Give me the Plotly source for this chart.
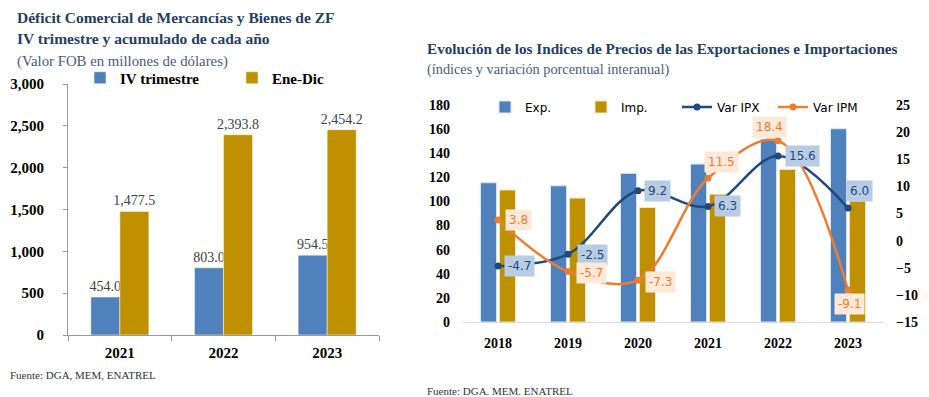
import plotly.graph_objects as go

# ---- data: left chart ----
years_left = ["2021", "2022", "2023"]
iv_trimestre = [454.0, 803.0, 954.5]
ene_dic = [1477.5, 2393.8, 2454.2]

# ---- data: right chart ----
years_right = ["2018", "2019", "2020", "2021", "2022", "2023"]
exp_idx = [115.5, 113.0, 123.3, 131.0, 151.7, 160.3]
imp_idx = [109.5, 102.8, 95.0, 106.0, 126.6, 100.3]
var_ipx = [-4.7, -2.5, 9.2, 6.3, 15.6, 6.0]
var_ipm = [3.8, -5.7, -7.3, 11.5, 18.4, -9.1]

SERIF = "Liberation Serif, Times New Roman, DejaVu Serif, serif"
SANS = "DejaVu Sans"
BLUE = "#4f81bd"
GOLD = "#bf9000"
DARK = "#1f497d"
ORANGE = "#ed7d31"
TITLE = "#243f60"
SUB = "#4a5a78"

W, H = 929, 397

def px(x):
    return x / W

def py(y):
    return 1 - y / H

fig = go.Figure()

# Left chart bars
fig.add_trace(go.Bar(x=years_left, y=iv_trimestre, name="IV trimestre",
                     marker=dict(color=BLUE, line=dict(color="white", width=0.5)),
                     texttemplate="%{y:,.1f}", textposition="outside", constraintext="none",
                     textfont=dict(family=SERIF, size=14, color="#404040"),
                     cliponaxis=False, xaxis="x", yaxis="y", legend="legend"))
fig.add_trace(go.Bar(x=years_left, y=ene_dic, name="Ene-Dic",
                     marker=dict(color=GOLD, line=dict(color="white", width=0.5)),
                     texttemplate="%{y:,.1f}", textposition="outside", constraintext="none",
                     textfont=dict(family=SERIF, size=14, color="#404040"),
                     cliponaxis=False, xaxis="x", yaxis="y", legend="legend"))

# Right chart bars
fig.add_trace(go.Bar(x=years_right, y=exp_idx, name="Exp.",
                     marker=dict(color=BLUE, line=dict(color="#dce6f2", width=1)),
                     width=0.23, offset=-0.25,
                     xaxis="x2", yaxis="y2", legend="legend2"))
fig.add_trace(go.Bar(x=years_right, y=imp_idx, name="Imp.",
                     marker=dict(color=GOLD, line=dict(color="#f2e6c0", width=1)),
                     width=0.23, offset=0.02,
                     xaxis="x2", yaxis="y2", legend="legend2"))

# Right chart lines
fig.add_trace(go.Scatter(x=years_right, y=var_ipx, name="Var IPX", mode="lines+markers",
                         line=dict(color=DARK, width=2.5, shape="spline", smoothing=1),
                         marker=dict(size=7, color=DARK),
                         xaxis="x2", yaxis="y3", legend="legend2", cliponaxis=False))
fig.add_trace(go.Scatter(x=years_right, y=var_ipm, name="Var IPM", mode="lines+markers",
                         line=dict(color=ORANGE, width=2.5, shape="spline", smoothing=1),
                         marker=dict(size=7, color=ORANGE),
                         xaxis="x2", yaxis="y3", legend="legend2", cliponaxis=False))

annotations = []

# data label boxes for lines (xshift, yshift, xanchor); x given as category index
ipx_pos = [(6, 0, "left"), (9, -1, "left"), (6, 0, "left"), (6, 0, "left"), (7, 0, "left"), (11, 17, "center")]
ipm_pos = [(7, 0, "left"), (8, -1, "left"), (7, -2, "left"), (13, 16, "center"), (-9, 14, "center"), (1, -14, "center")]
for i, (v, (dx, dy, xa)) in enumerate(zip(var_ipx, ipx_pos)):
    annotations.append(dict(x=i, y=v, xref="x2", yref="y3", text=f"{v:.1f}", showarrow=False,
                            xanchor=xa, yanchor="middle", xshift=dx, yshift=dy,
                            bgcolor="#b8cce4", borderpad=3,
                            font=dict(family=SANS, size=12, color=DARK)))
for i, (v, (dx, dy, xa)) in enumerate(zip(var_ipm, ipm_pos)):
    annotations.append(dict(x=i, y=v, xref="x2", yref="y3", text=f"{v:.1f}", showarrow=False,
                            xanchor=xa, yanchor="middle", xshift=dx, yshift=dy,
                            bgcolor="#fde9d9", borderpad=3,
                            font=dict(family=SANS, size=12, color=ORANGE)))

# titles
def txt(x, y, s, size, color, bold=False, family=SERIF):
    annotations.append(dict(x=px(x), y=py(y), xref="paper", yref="paper", text=(f"<b>{s}</b>" if bold else s),
                            showarrow=False, xanchor="left", yanchor="middle",
                            font=dict(family=family, size=size, color=color)))

txt(15, 18, "Déficit Comercial de Mercancías y Bienes de ZF", 15.5, TITLE, True)
txt(15, 39, "IV trimestre y acumulado de cada año", 15.5, TITLE, True)
txt(15, 61, "(Valor FOB en millones de dólares)", 14.8, SUB)
txt(8, 375, "Fuente: DGA, MEM, ENATREL", 11, "#333333")

txt(425, 48, "Evolución de los Indices de Precios de las Exportaciones e Importaciones", 15.2, TITLE, True)
txt(425, 70, "(índices y variación porcentual interanual)", 14.3, SUB)
txt(425, 391, "Fuente: DGA. MEM. ENATREL", 11, "#333333")

fig.update_layout(
    width=W, height=H,
    margin=dict(l=0, r=0, t=0, b=0, autoexpand=False),
    paper_bgcolor="white", plot_bgcolor="white",
    barmode="group", bargap=0.44, bargroupgap=0,
    annotations=annotations,
    xaxis=dict(domain=[px(68), px(379)], anchor="y", type="category",
               showline=True, linecolor="#9a9a9a", linewidth=1,
               ticks="outside", tickson="boundaries", ticklen=5, tickcolor="#9a9a9a",
               tickfont=dict(family=SERIF, size=15, color="black"), ticklabelstandoff=4,
               tickprefix="<b>", ticksuffix="</b>"),
    yaxis=dict(domain=[py(335), py(84)], anchor="x", range=[0, 3000], dtick=500,
               showline=True, linecolor="#9a9a9a", linewidth=1, showgrid=False, zeroline=False,
               ticks="outside", ticklen=4, tickcolor="#9a9a9a", tickformat=",",
               tickfont=dict(family=SERIF, size=15, color="black"), ticklabelstandoff=16,
               tickprefix="<b>", ticksuffix="</b>"),
    xaxis2=dict(domain=[px(463), px(883)], anchor="y2", type="category", range=[-0.5, 5.5],
                showline=True, linecolor="#d9d9d9", linewidth=1, ticks="",
                tickfont=dict(family=SERIF, size=14, color="black"), ticklabelstandoff=8,
                tickprefix="<b>", ticksuffix="</b>"),
    yaxis2=dict(domain=[py(322), py(105)], anchor="x2", range=[0, 180], dtick=20,
                showline=False, showgrid=False, zeroline=False,
                tickfont=dict(family=SERIF, size=14, color="black"), ticklabelstandoff=12,
                tickprefix="<b>", ticksuffix="</b>"),
    yaxis3=dict(domain=[py(322), py(105)], anchor="x2", overlaying="y2", side="right",
                range=[-15, 25], dtick=5,
                showline=False, showgrid=False, zeroline=False,
                tickfont=dict(family=SERIF, size=14, color="black"), ticklabelstandoff=12,
                tickprefix="<b>", ticksuffix="</b>"),
    legend=dict(orientation="h", x=px(80), y=py(78), xanchor="left", yanchor="middle",
                font=dict(family=SERIF, size=15, color="black", weight="bold"),
                entrywidth=107, entrywidthmode="pixels", traceorder="normal",
                bgcolor="rgba(0,0,0,0)"),
    legend2=dict(orientation="h", x=px(485), y=py(107), xanchor="left", yanchor="middle",
                 font=dict(family=SANS, size=12, color="black"), traceorder="normal",
                 entrywidth=51, entrywidthmode="pixels",
                 bgcolor="rgba(0,0,0,0)"),
)

fig.write_html("out.html", config={"displayModeBar": False},
               post_script="document.body.style.margin='0';")
